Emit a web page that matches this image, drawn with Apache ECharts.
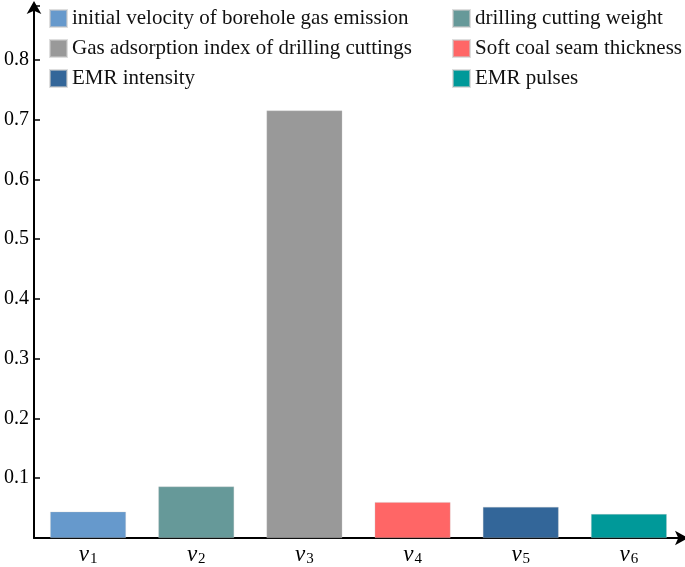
<!DOCTYPE html>
<html><head><meta charset="utf-8">
<script src="https://cdn.jsdelivr.net/npm/echarts@6/dist/echarts.min.js"></script>
<style>html,body{margin:0;padding:0;background:#fff}#c{width:685px;height:567px}</style>
</head><body><div id="c"></div>
<script>
const categories = ['1','2','3','4','5','6'];
const seriesNames = ['initial velocity of borehole gas emission','drilling cutting weight','Gas adsorption index of drilling cuttings','Soft coal seam thickness','EMR intensity','EMR pulses'];
const values = [0.044, 0.086, 0.715, 0.060, 0.052, 0.040];
const colors = ['#6699CC','#669999','#999999','#FF6666','#336699','#009999'];
const yTicks = [0.1,0.2,0.3,0.4,0.5,0.6,0.7,0.8];

const font = 'Liberation Serif';
const series = seriesNames.map((name, i) => ({
  name, type: 'bar', stack: 'all', barWidth: '70%',
  itemStyle: {color: colors[i], borderColor: 'rgba(200,200,200,0.6)', borderWidth: 0.5},
  data: categories.map((c, j) => j === i ? values[i] : null)
}));
const legendText = {fontFamily: font, fontSize: 21, color: '#111'};
const chart = echarts.init(document.getElementById('c'));
chart.setOption({
  animation: false,
  grid: {left: 34, right: 2, top: 6, bottom: 24, containLabel: false},
  legend: [
    {data: [seriesNames[0], seriesNames[2], seriesNames[4]], orient: 'vertical', left: 44, top: 3,
     itemWidth: 17, itemHeight: 17, itemGap: 9, icon: 'rect', textStyle: legendText},
    {data: [seriesNames[1], seriesNames[3], seriesNames[5]], orient: 'vertical', left: 447, top: 3,
     itemWidth: 17, itemHeight: 17, itemGap: 9, icon: 'rect', textStyle: legendText}
  ],
  xAxis: {
    type: 'category', data: categories,
    axisLine: {lineStyle: {color: '#000', width: 2}, symbol: ['none','arrow'], symbolSize: [11, 13], symbolOffset: [0, 5]},
    axisTick: {show: false},
    axisLabel: {
      margin: 4,
      formatter: v => '{v|v}{s|' + v + '}',
      rich: {
        v: {fontFamily: font, fontStyle: 'italic', fontSize: 23, color: '#000'},
        s: {fontFamily: font, fontSize: 15, color: '#000', padding: [10, 0, 0, 1]}
      }
    }
  },
  yAxis: {
    type: 'value', min: 0, max: 0.89, interval: 0.1,
    splitLine: {show: false},
    axisLine: {show: true, lineStyle: {color: '#000', width: 2}, symbol: ['none','arrow'], symbolSize: [11, 13], symbolOffset: [0, 5]},
    axisTick: {show: true, inside: true, length: 6, lineStyle: {color: '#000', width: 1.5}},
    axisLabel: {
      margin: 5, fontFamily: font, fontSize: 20, color: '#000',
      formatter: v => yTicks.some(t => Math.abs(t - v) < 1e-6) ? v.toFixed(1) : ''
    }
  },
  series
});
</script></body></html>
